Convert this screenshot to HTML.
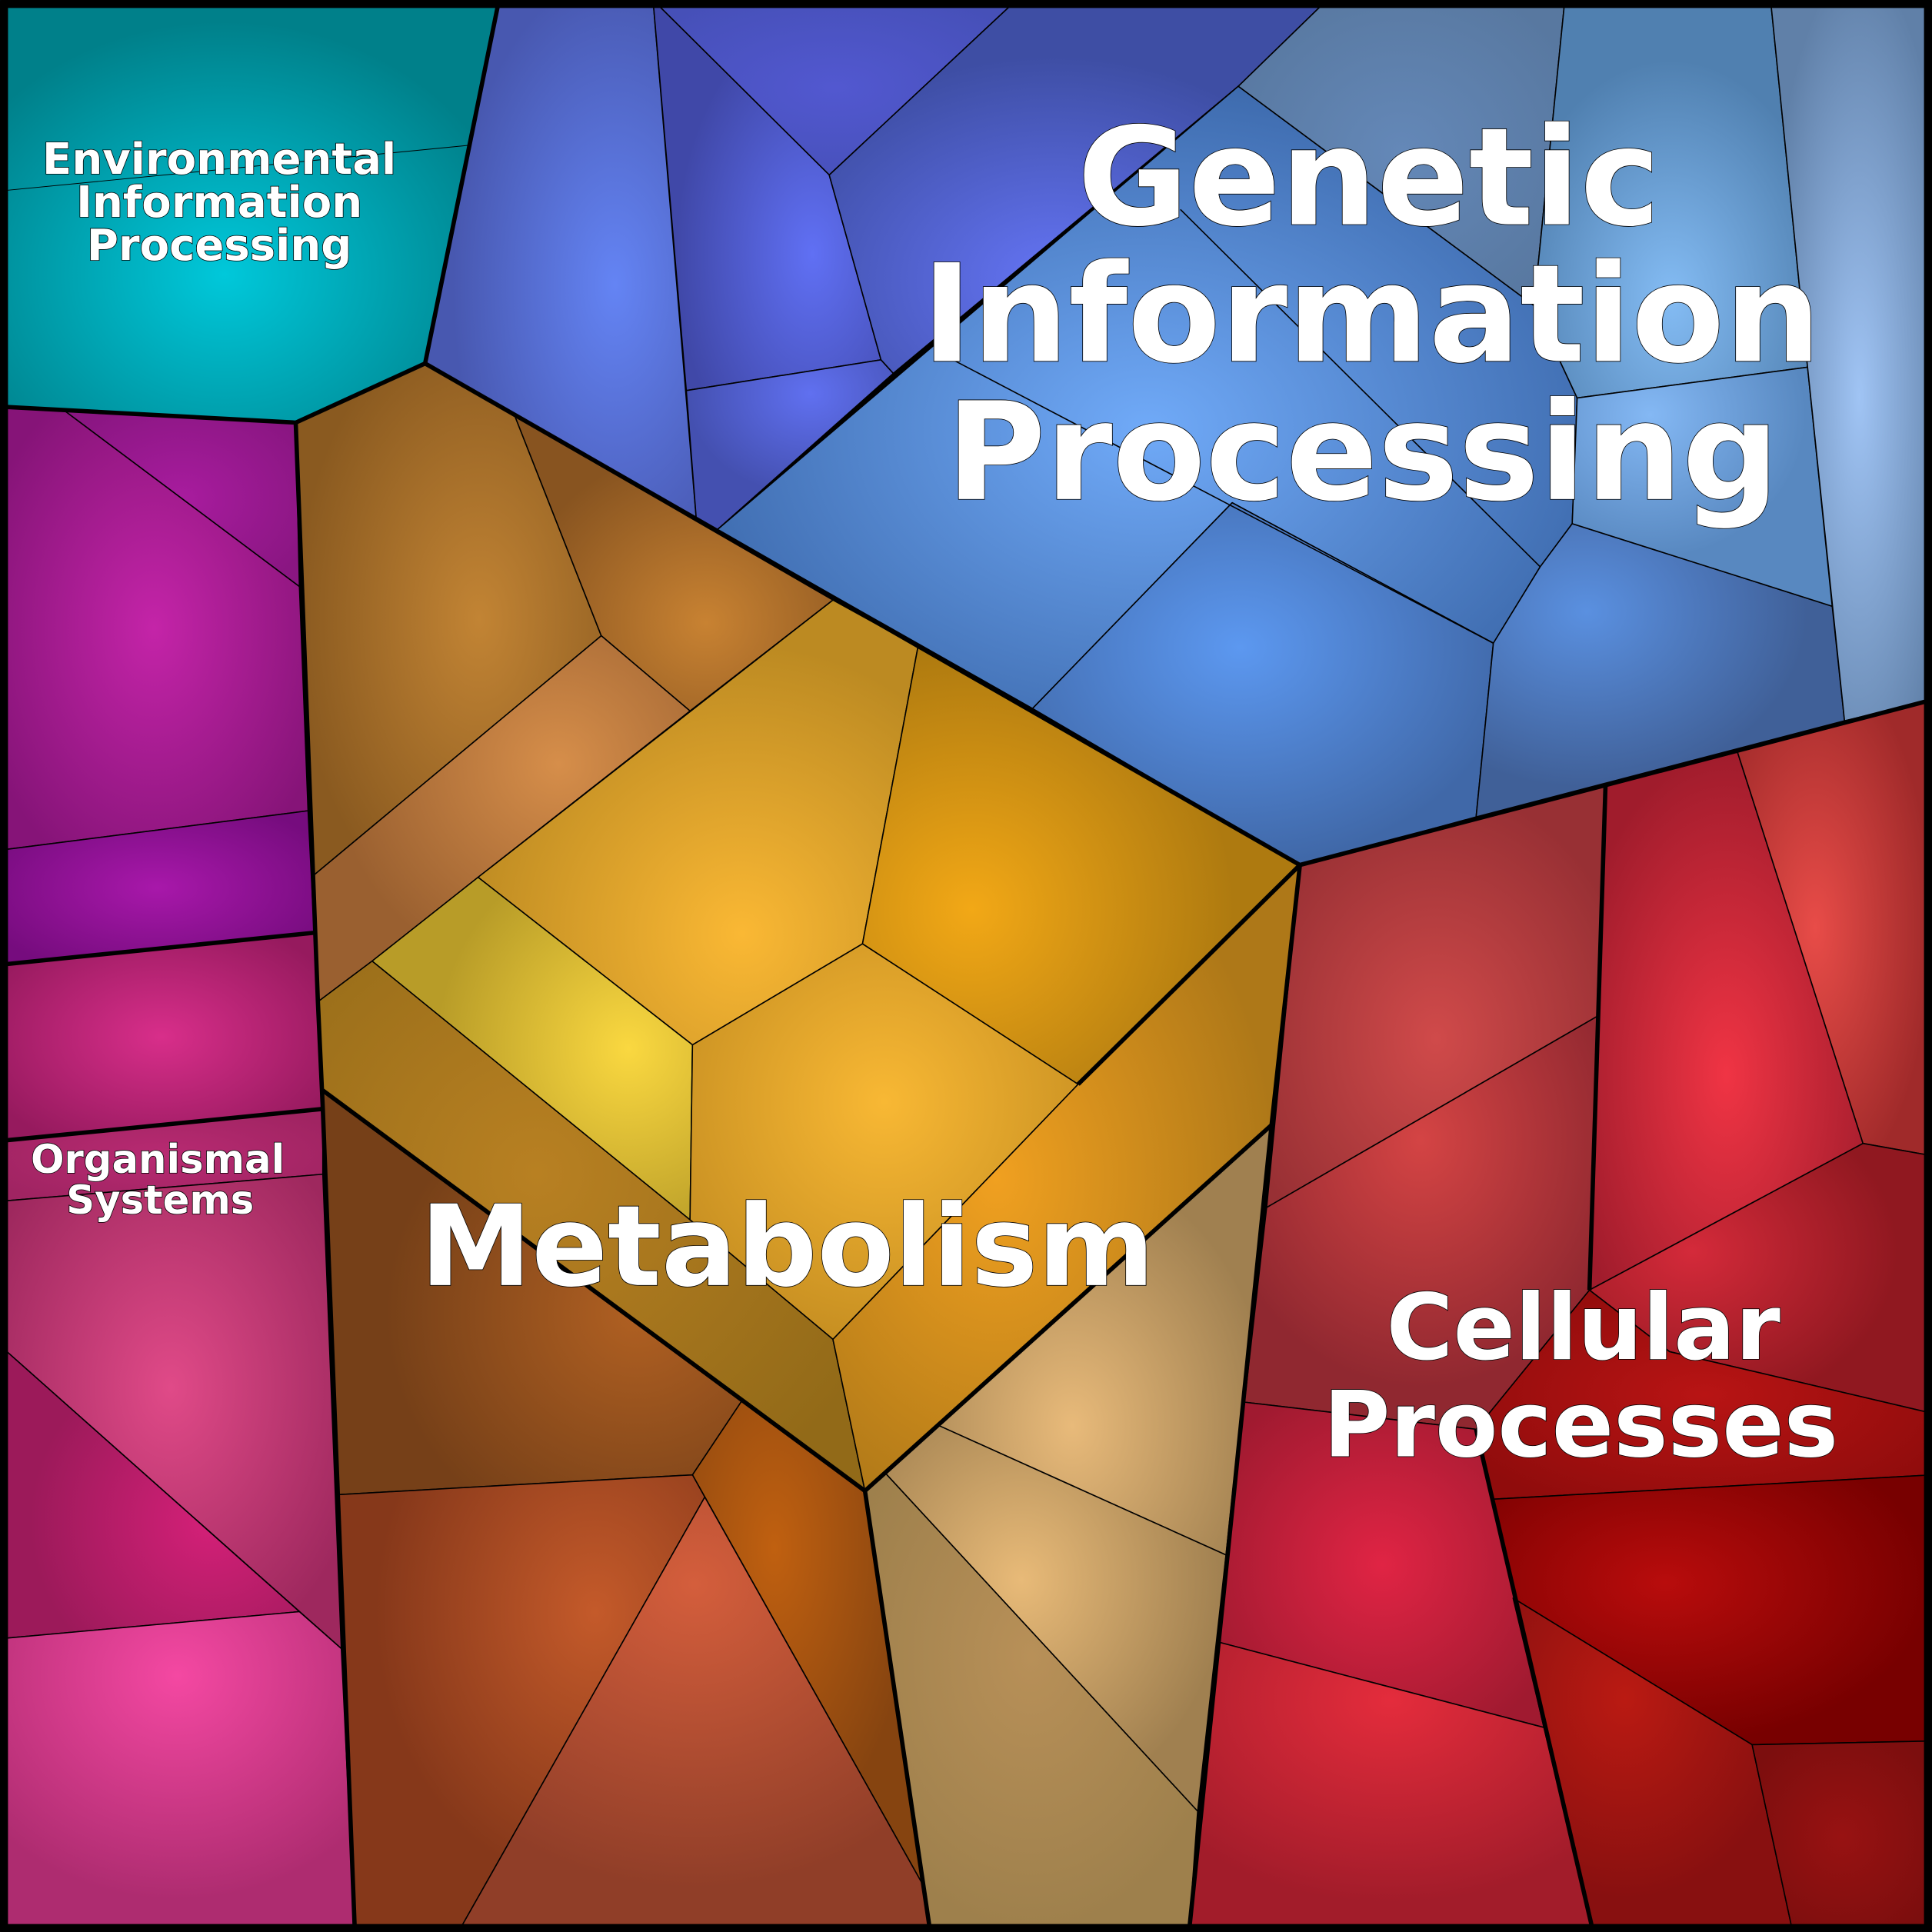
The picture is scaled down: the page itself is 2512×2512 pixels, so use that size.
<!DOCTYPE html>
<html><head><meta charset="utf-8"><style>html,body{margin:0;padding:0;background:#000}svg{display:block}</style></head>
<body>
<svg xmlns="http://www.w3.org/2000/svg" width="2512" height="2512" viewBox="0 0 1568 1568">
<defs>
<radialGradient id="env" cx="0.45" cy="0.65" r="0.6"><stop offset="0" stop-color="#00c8da"/><stop offset="1" stop-color="#00808a"/></radialGradient>
<radialGradient id="oA" r="0.6"><stop offset="0" stop-color="#c424a8"/><stop offset="1" stop-color="#861478"/></radialGradient>
<radialGradient id="oB" r="0.6"><stop offset="0" stop-color="#a81c9e"/><stop offset="1" stop-color="#8a1682"/></radialGradient>
<radialGradient id="oC" r="0.6"><stop offset="0" stop-color="#a818aa"/><stop offset="1" stop-color="#760c7e"/></radialGradient>
<radialGradient id="oD" r="0.6"><stop offset="0" stop-color="#d82e8a"/><stop offset="1" stop-color="#961a5e"/></radialGradient>
<radialGradient id="oE" r="0.6"><stop offset="0" stop-color="#b82a72"/><stop offset="1" stop-color="#a02462"/></radialGradient>
<radialGradient id="oF" cx="0.5" cy="0.45" r="0.6"><stop offset="0" stop-color="#e04a88"/><stop offset="1" stop-color="#9e285e"/></radialGradient>
<radialGradient id="oG" cx="0.7" cy="0.6" r="0.6"><stop offset="0" stop-color="#d42078"/><stop offset="1" stop-color="#9c1a5a"/></radialGradient>
<radialGradient id="oH" cx="0.5" cy="0.2" r="0.7"><stop offset="0" stop-color="#f448a2"/><stop offset="1" stop-color="#ae2c70"/></radialGradient>
<radialGradient id="m1" cx="0.6" cy="0.5" r="0.6"><stop offset="0" stop-color="#c28434"/><stop offset="1" stop-color="#8a5a20"/></radialGradient>
<radialGradient id="m2" cx="0.6" cy="0.7" r="0.6"><stop offset="0" stop-color="#c88232"/><stop offset="1" stop-color="#885420"/></radialGradient>
<radialGradient id="m3" cx="0.65" cy="0.35" r="0.6"><stop offset="0" stop-color="#d68e4a"/><stop offset="1" stop-color="#9a6030"/></radialGradient>
<radialGradient id="c1" cx="0.6" cy="0.75" r="0.65"><stop offset="0" stop-color="#fab834"/><stop offset="1" stop-color="#bc8a22"/></radialGradient>
<radialGradient id="c2" cx="0.25" cy="0.6" r="0.6"><stop offset="0" stop-color="#f2a816"/><stop offset="1" stop-color="#ae7a10"/></radialGradient>
<radialGradient id="c3" cx="0.8" cy="0.5" r="0.6"><stop offset="0" stop-color="#fad840"/><stop offset="1" stop-color="#b89c28"/></radialGradient>
<radialGradient id="c4" cx="0.5" cy="0.4" r="0.6"><stop offset="0" stop-color="#f8b834"/><stop offset="1" stop-color="#c89022"/></radialGradient>
<radialGradient id="c5" cx="0.4" cy="0.4" r="0.7"><stop offset="0" stop-color="#b88022"/><stop offset="1" stop-color="#926a18"/></radialGradient>
<radialGradient id="c6" cx="0.35" cy="0.5" r="0.6"><stop offset="0" stop-color="#f0a020"/><stop offset="1" stop-color="#ae7818"/></radialGradient>
<radialGradient id="m4" cx="0.75" cy="0.55" r="0.6"><stop offset="0" stop-color="#b06022"/><stop offset="1" stop-color="#764018"/></radialGradient>
<radialGradient id="m5" cx="0.35" cy="0.3" r="0.6"><stop offset="0" stop-color="#c06010"/><stop offset="1" stop-color="#864410"/></radialGradient>
<radialGradient id="m6" cx="0.7" cy="0.3" r="0.6"><stop offset="0" stop-color="#c45a2a"/><stop offset="1" stop-color="#86381a"/></radialGradient>
<radialGradient id="m7" cx="0.5" cy="0.2" r="0.7"><stop offset="0" stop-color="#d45e3c"/><stop offset="1" stop-color="#903e28"/></radialGradient>
<radialGradient id="t1" cx="0.4" cy="0.7" r="0.6"><stop offset="0" stop-color="#e8ba7a"/><stop offset="1" stop-color="#a08050"/></radialGradient>
<radialGradient id="t2" cx="0.4" cy="0.4" r="0.6"><stop offset="0" stop-color="#e8ba78"/><stop offset="1" stop-color="#a08050"/></radialGradient>
<radialGradient id="t3" cx="0.5" cy="0.4" r="0.6"><stop offset="0" stop-color="#b89058"/><stop offset="1" stop-color="#9e804c"/></radialGradient>
<radialGradient id="r1" cx="0.5" cy="0.6" r="0.6"><stop offset="0" stop-color="#d04a4a"/><stop offset="1" stop-color="#983034"/></radialGradient>
<radialGradient id="r2" cx="0.5" cy="0.3" r="0.6"><stop offset="0" stop-color="#d44444"/><stop offset="1" stop-color="#902830"/></radialGradient>
<radialGradient id="r3" cx="0.5" cy="0.6" r="0.6"><stop offset="0" stop-color="#f03444"/><stop offset="1" stop-color="#a01c2c"/></radialGradient>
<radialGradient id="r4" cx="0.4" cy="0.5" r="0.6"><stop offset="0" stop-color="#e84c48"/><stop offset="1" stop-color="#a02a2a"/></radialGradient>
<radialGradient id="r5" cx="0.3" cy="0.4" r="0.6"><stop offset="0" stop-color="#d42a3a"/><stop offset="1" stop-color="#901820"/></radialGradient>
<radialGradient id="r6" r="0.6"><stop offset="0" stop-color="#b81414"/><stop offset="1" stop-color="#900c0c"/></radialGradient>
<radialGradient id="r7" cx="0.4" cy="0.4" r="0.6"><stop offset="0" stop-color="#b80c0c"/><stop offset="1" stop-color="#780000"/></radialGradient>
<radialGradient id="r8" r="0.6"><stop offset="0" stop-color="#e02444"/><stop offset="1" stop-color="#a01a30"/></radialGradient>
<radialGradient id="r9" cx="0.5" cy="0.2" r="0.7"><stop offset="0" stop-color="#e42c3c"/><stop offset="1" stop-color="#a21c2a"/></radialGradient>
<radialGradient id="r10" cx="0.4" cy="0.3" r="0.6"><stop offset="0" stop-color="#ba1a12"/><stop offset="1" stop-color="#881010"/></radialGradient>
<radialGradient id="r11" r="0.6"><stop offset="0" stop-color="#981212"/><stop offset="1" stop-color="#7c0e0e"/></radialGradient>
<radialGradient id="g1" cx="0.7" cy="0.55" r="0.6"><stop offset="0" stop-color="#6484f4"/><stop offset="1" stop-color="#4858b0"/></radialGradient>
<radialGradient id="g2" r="0.6"><stop offset="0" stop-color="#5258d0"/><stop offset="1" stop-color="#4650b8"/></radialGradient>
<radialGradient id="g3" cx="0.7" cy="0.65" r="0.6"><stop offset="0" stop-color="#6070f4"/><stop offset="1" stop-color="#4048a8"/></radialGradient>
<radialGradient id="g4" cx="0.6" cy="0.2" r="0.6"><stop offset="0" stop-color="#6070f0"/><stop offset="1" stop-color="#4450b0"/></radialGradient>
<radialGradient id="g5" cx="0.45" cy="0.75" r="0.6"><stop offset="0" stop-color="#6474f4"/><stop offset="1" stop-color="#3e4ea4"/></radialGradient>
<radialGradient id="g6" cx="0.5" cy="0.55" r="0.6"><stop offset="0" stop-color="#70aaf8"/><stop offset="1" stop-color="#3a66a8"/></radialGradient>
<radialGradient id="g7" cx="0.45" cy="0.4" r="0.6"><stop offset="0" stop-color="#5c98f0"/><stop offset="1" stop-color="#4068a8"/></radialGradient>
<radialGradient id="g8" cx="0.3" cy="0.3" r="0.6"><stop offset="0" stop-color="#5a90e0"/><stop offset="1" stop-color="#406098"/></radialGradient>
<radialGradient id="g9" r="0.6"><stop offset="0" stop-color="#6488b8"/><stop offset="1" stop-color="#5878a0"/></radialGradient>
<radialGradient id="g10" cx="0.5" cy="0.75" r="0.6"><stop offset="0" stop-color="#84bcf4"/><stop offset="1" stop-color="#5080b0"/></radialGradient>
<radialGradient id="g11" cx="0.3" cy="0.2" r="0.6"><stop offset="0" stop-color="#84b8f4"/><stop offset="1" stop-color="#5888c0"/></radialGradient>
<radialGradient id="g12" cx="0.55" cy="0.55" r="0.6"><stop offset="0" stop-color="#a0c4f4"/><stop offset="1" stop-color="#6080a8"/></radialGradient>
</defs>
<g stroke="#000" stroke-width="1" stroke-linejoin="round">
<polygon fill="url(#env)" points="0,0 405,0 345,295 240,343 0,330"/>
<polygon fill="url(#oA)" points="0,330 52,333 243,476 250,658 0,690"/>
<polygon fill="url(#oB)" points="52,333 240,343 243,476"/>
<polygon fill="url(#oC)" points="0,690 250,658 255,757 0,783"/>
<polygon fill="url(#oD)" points="0,783 255,757 262,900 0,926"/>
<polygon fill="url(#oE)" points="0,926 262,900 262,953 0,975"/>
<polygon fill="url(#oF)" points="0,975 262,953 277,1338 0,1092"/>
<polygon fill="url(#oG)" points="0,1092 243,1308 0,1330"/>
<polygon fill="url(#oH)" points="0,1330 243,1308 277,1338 288,1568 0,1568"/>
<polygon fill="url(#m1)" points="240,343 345,295 418,338 488,516 255,710"/>
<polygon fill="url(#m2)" points="418,338 676,487 560,577 488,516"/>
<polygon fill="url(#m3)" points="255,710 488,516 560,577 388,712 302,780 258,813"/>
<polygon fill="url(#c1)" points="388,712 676,487 745,525 700,766 562,848"/>
<polygon fill="url(#c2)" points="745,525 1055,702 875,880 700,766"/>
<polygon fill="url(#c3)" points="302,780 388,712 562,848 560,990"/>
<polygon fill="url(#c4)" points="562,848 700,766 875,880 676,1087 560,990"/>
<polygon fill="url(#c5)" points="258,813 302,780 560,990 676,1087 702,1210 262,885"/>
<polygon fill="url(#c6)" points="875,880 1055,702 1032,913 702,1210 676,1087"/>
<polygon fill="url(#m4)" points="262,885 602,1137 562,1197 275,1213"/>
<polygon fill="url(#m5)" points="602,1137 702,1210 752,1535 562,1197"/>
<polygon fill="url(#m6)" points="275,1213 562,1197 572,1215 372,1568 288,1568"/>
<polygon fill="url(#m7)" points="572,1215 752,1535 755,1568 372,1568"/>
<polygon fill="url(#t1)" points="762,1157 1032,913 995,1262"/>
<polygon fill="url(#t2)" points="718,1195 762,1157 995,1262 972,1470"/>
<polygon fill="url(#t3)" points="702,1210 718,1195 972,1470 965,1568 755,1568"/>
<polygon fill="url(#r1)" points="1055,702 1303,638 1296,825 1028,980"/>
<polygon fill="url(#r2)" points="1028,980 1296,825 1290,1047 1198,1160 1010,1138"/>
<polygon fill="url(#r3)" points="1303,638 1410,610 1512,928 1290,1047"/>
<polygon fill="url(#r4)" points="1410,610 1568,568 1568,938 1512,928"/>
<polygon fill="url(#r5)" points="1512,928 1568,938 1568,1147 1355,1097 1290,1047"/>
<polygon fill="url(#r6)" points="1198,1160 1290,1047 1355,1097 1568,1147 1568,1197 1207,1217"/>
<polygon fill="url(#r7)" points="1207,1217 1568,1197 1568,1413 1422,1416 1228,1297"/>
<polygon fill="url(#r8)" points="1010,1138 1198,1160 1253,1402 990,1333"/>
<polygon fill="url(#r9)" points="990,1333 1253,1402 1293,1568 965,1568"/>
<polygon fill="url(#r10)" points="1228,1297 1422,1416 1455,1568 1293,1568"/>
<polygon fill="url(#r11)" points="1422,1416 1568,1413 1568,1568 1455,1568"/>
<polygon fill="url(#g1)" points="405,0 530,0 565,420 345,295"/>
<polygon fill="url(#g2)" points="530,0 825,0 673,142"/>
<polygon fill="url(#g3)" points="530,0 673,142 715,292 557,317"/>
<polygon fill="url(#g4)" points="557,317 715,292 725,303 582,430 565,420"/>
<polygon fill="url(#g5)" points="673,142 825,0 1077,0 1005,70 725,303 715,292"/>
<polygon fill="url(#g6)" points="582,430 1005,70 1245,248 1280,323 1276,425 1250,460 1212,522 1000,408 838,575"/>
<polygon fill="url(#g7)" points="838,575 1000,408 1212,522 1198,663 1055,702"/>
<polygon fill="url(#g8)" points="1212,522 1250,460 1276,425 1487,492 1497,585 1198,663"/>
<polygon fill="url(#g9)" points="1077,0 1270,0 1245,248 1005,70"/>
<polygon fill="url(#g10)" points="1270,0 1437,0 1467,298 1280,323 1245,248"/>
<polygon fill="url(#g11)" points="1280,323 1467,298 1487,492 1276,425"/>
<polygon fill="url(#g12)" points="1437,0 1568,0 1568,568 1497,585 1467,298"/>
<line x1="0" y1="155" x2="380" y2="118" stroke-width="0.6"/>
<line x1="958" y1="170" x2="1250" y2="460"/>
<line x1="760" y1="285" x2="1212" y2="522"/>
</g>
<g fill="none" stroke="#000" stroke-width="3.5" stroke-linejoin="round">
<polyline points="405,0 345,295 240,343 0,330"/>
<polyline points="240,343 258,813 262,900 288,1568"/>
<polyline points="0,783 255,757"/>
<polyline points="0,926 262,900"/>
<polyline points="345,295 1055,702 1568,568"/>
<polyline points="1055,702 1032,913 965,1568"/>
<polyline points="1055,702 875,880"/>
<polyline points="1032,913 702,1210 262,885"/>
<polyline points="702,1210 755,1568"/>
<polyline points="1303,638 1290,1047"/>
<polyline points="1198,1160 1293,1568"/>
<rect x="3" y="3" width="1562" height="1562" stroke-width="7"/>
</g>
<g font-family="'DejaVu Sans','Liberation Sans',sans-serif" font-weight="bold" fill="#fff" stroke="#000" stroke-width="1" text-anchor="middle" paint-order="stroke">
<text font-size="35" x="178" y="141">Environmental</text>
<text font-size="35" x="178" y="176">Information</text>
<text font-size="35" x="178" y="211">Processing</text>
<text font-size="32" x="128" y="952">Organismal</text>
<text font-size="32" x="130" y="985">Systems</text>
<text font-size="110" x="1111" y="182">Genetic</text>
<text font-size="110" x="1113" y="293">Information</text>
<text font-size="110" x="1106" y="405">Processing</text>
<text font-size="91" x="639" y="1043">Metabolism</text>
<text font-size="74" x="1285" y="1103">Cellular</text>
<text font-size="74" x="1283" y="1182">Processes</text>
</g>
</svg>
</body></html>
